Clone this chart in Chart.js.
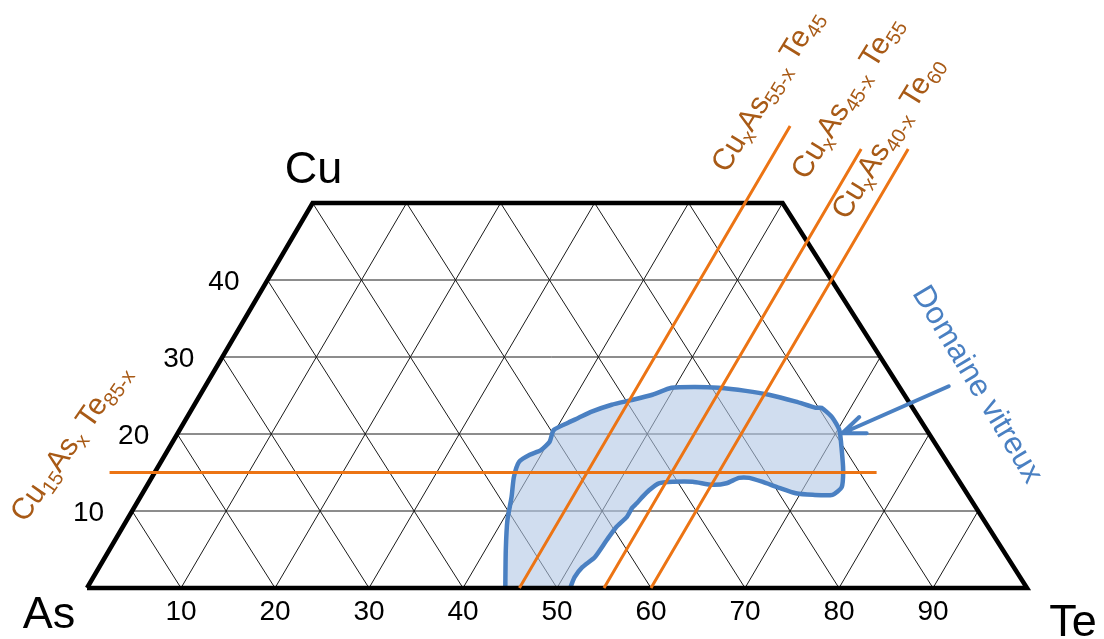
<!DOCTYPE html>
<html>
<head>
<meta charset="utf-8">
<script src="https://cdn.jsdelivr.net/npm/chart.js@4.4.1/dist/chart.umd.min.js"></script>
<style>
  html, body { margin: 0; padding: 0; background: #fff; }
  #wrap { width: 1104px; height: 639px; position: relative; }
</style>
</head>
<body>
<div id="wrap"><canvas id="ternary"></canvas></div>
<script>
// ticks, at.%
const teTicks = [10, 20, 30, 40, 50, 60, 70, 80, 90];
const cuTicks = [10, 20, 30, 40];
const cuMax = 50; // diagram cut at 50 % Cu

// sections CuxAs(..)Te(..) : constant Te, from Cu=0 up to sectionCuEnd
const sectionTe = [46, 55, 60];
const sectionCuEnd = [60, 57, 57];
// section Cu15AsxTe85-x : constant Cu
const sectionCu = 15;
const sectionCuTe = [-4.8, 76.8];

// outline of the glass forming domain (Te, Cu)
const glassTe = [44.5, 42.2, 40.5, 39.5, 38.5, 38.1, 38.8, 39.7, 40.1, 39.8, 40.8, 41.7, 42.7, 44.4, 46.2, 48.1,
  49.7, 52.2, 54.7, 57.8, 60.5, 63.8, 66.3, 66.9, 68.6, 70.2, 71.7, 73.1, 74.0, 73.5, 71.4, 69.5, 67.4, 65.2,
  63.6, 62.5, 61.5, 60.1, 57.8, 55.7, 54.3, 53.7, 53.4, 53.2, 53.0, 53.0, 52.5, 52.3, 52.1, 51.4, 51.2, 51.4];
const glassCu = [0, 4.9, 8.8, 11.8, 14.4, 16.4, 17.3, 17.9, 19.0, 20.5, 21.4, 22.1, 22.9, 23.8, 24.4, 25.1,
  26.0, 26.1, 26.0, 25.6, 25.1, 24.2, 23.4, 23.4, 22.2, 20.5, 17.9, 15.3, 13.1, 12.1, 12.1, 12.3, 13.0, 13.8,
  14.3, 14.3, 13.6, 13.4, 13.8, 13.8, 13.6, 12.7, 11.8, 11.0, 10.4, 9.2, 7.9, 6.2, 4.0, 2.7, 1.4, 0];

// arrow "Domaine vitreux" : tail, tip, barb, tip, barb
const arrowTe = [79.1, 70.7, 71.5, 70.7, 73.3];
const arrowCu = [26.2, 20.1, 22.2, 20.1, 20.1];

const FONT = '"Liberation Sans", Arial, sans-serif';
const ORANGE = '#EC7414';
const BROWN = '#A85A16';
const BLUE = '#4A80C2';

// ternary -> cartesian (x along As-Te side, y = Cu)
const SKEW = 0.48;
const pt = (te, cu) => ({ x: te + SKEW * cu, y: cu });
const GAP = { x: null, y: null };

// grid
const gridData = [];
cuTicks.forEach(c => gridData.push(pt(0, c), pt(100 - c, c), GAP));
teTicks.forEach(t => {
  gridData.push(pt(t, 0), pt(t, Math.min(cuMax, 100 - t)), GAP);
  const c = Math.min(cuMax, t);
  gridData.push(pt(t, 0), pt(t - c, c), GAP);
});

const frameData = [pt(0, 0), pt(100, 0), pt(100 - cuMax, cuMax), pt(0, cuMax), pt(0, 0)];

const sectionData = [];
sectionTe.forEach((t, i) => sectionData.push(pt(t, 0), pt(t, sectionCuEnd[i]), GAP));
sectionData.push(pt(sectionCuTe[0], sectionCu), pt(sectionCuTe[1], sectionCu));

const glassData = glassTe.map((t, i) => pt(t, glassCu[i]));
const arrowData = arrowTe.map((t, i) => pt(t, arrowCu[i]));

const notes = [
  { text: 'Cu_{x}As_{55-x} Te_{45}', x: 72.2, y: 64.7, angle: -58.5, size: 30, color: BROWN },
  { text: 'Cu_{x}As_{45-x} Te_{55}', x: 80.7, y: 63.8, angle: -58.5, size: 30, color: BROWN },
  { text: 'Cu_{x}As_{40-x} Te_{60}', x: 85.0, y: 58.6, angle: -58.5, size: 30, color: BROWN },
  { text: 'Cu_{15}As_{x} Te_{85-x}', x: -1.9, y: 19.0, angle: -55, size: 30, color: BROWN },
  { text: 'Domaine vitreux', x: 94.9, y: 26.6, angle: 59, size: 31, color: BLUE },
];
const corners = [
  { text: 'As', x: -4.04, y: -5.2 },
  { text: 'Cu', x: 24.1, y: 52.6 },
  { text: 'Te', x: 104.9, y: -6.2 },
];

function drawRich(ctx, str, cx, cy, angle, size, color) {
  const sub = Math.round(size * 0.68);
  const parts = [];
  str.split(/(_\{[^}]*\})/).forEach(s => {
    if (!s) return;
    if (s.startsWith('_{')) parts.push({ t: s.slice(2, -1), sub: true });
    else parts.push({ t: s, sub: false });
  });
  ctx.save();
  ctx.translate(cx, cy);
  ctx.rotate(angle * Math.PI / 180);
  let w = 0;
  parts.forEach(p => {
    ctx.font = (p.sub ? sub : size) + 'px ' + FONT;
    p.w = ctx.measureText(p.t).width;
    w += p.w;
  });
  let x = -w / 2;
  ctx.fillStyle = color;
  ctx.textBaseline = 'alphabetic';
  ctx.textAlign = 'left';
  parts.forEach(p => {
    ctx.font = (p.sub ? sub : size) + 'px ' + FONT;
    ctx.fillText(p.t, x, size * 0.36 + (p.sub ? size * 0.2 : 0));
    x += p.w;
  });
  ctx.restore();
}

const textPlugin = {
  id: 'ternaryText',
  afterDatasetsDraw(chart) {
    const ctx = chart.ctx;
    const xs = chart.scales.x, ys = chart.scales.y;
    // Cu ticks along the As-Cu side
    ctx.save();
    ctx.font = '28px ' + FONT;
    ctx.fillStyle = '#000';
    ctx.textAlign = 'right';
    ctx.textBaseline = 'middle';
    cuTicks.forEach(c => {
      const p = pt(0, c);
      ctx.fillText(String(c), xs.getPixelForValue(p.x) - 28, ys.getPixelForValue(p.y) + 2);
    });
    ctx.font = '45px ' + FONT;
    ctx.textAlign = 'center';
    ctx.textBaseline = 'alphabetic';
    corners.forEach(c => ctx.fillText(c.text, xs.getPixelForValue(c.x), ys.getPixelForValue(c.y)));
    ctx.restore();
    notes.forEach(n => drawRich(ctx, n.text, xs.getPixelForValue(n.x), ys.getPixelForValue(n.y), n.angle, n.size, n.color));
  }
};

const line = (extra) => Object.assign({
  showLine: true, pointRadius: 0, pointHoverRadius: 0, clip: false, spanGaps: false, fill: false
}, extra);

new Chart(document.getElementById('ternary'), {
  type: 'scatter',
  data: {
    datasets: [
      line({ label: 'grid', data: gridData, borderColor: '#1a1a1a', borderWidth: 1, order: 5 }),
      line({ label: 'Domaine vitreux', data: glassData, borderColor: BLUE, borderWidth: 4.5,
        backgroundColor: 'rgba(176,198,228,0.6)', fill: 'shape', tension: 0.2, borderJoinStyle: 'round', order: 4 }),
      line({ label: 'frame', data: frameData, borderColor: '#000', borderWidth: 4.5, borderJoinStyle: 'miter', order: 3 }),
      line({ label: 'sections', data: sectionData, borderColor: ORANGE, borderWidth: 3, order: 2 }),
      line({ label: 'arrow', data: arrowData, borderColor: BLUE, borderWidth: 4, borderCapStyle: 'round', borderJoinStyle: 'round', order: 1 }),
    ]
  },
  options: {
    responsive: true,
    maintainAspectRatio: false,
    devicePixelRatio: 1,
    animation: false,
    events: [],
    layout: { padding: { left: 87, right: 77, top: 203, bottom: 0 } },
    plugins: { legend: { display: false }, tooltip: { enabled: false } },
    scales: {
      x: {
        type: 'linear', min: 0, max: 100, position: 'bottom',
        grid: { display: false, drawTicks: false, tickLength: 0 },
        border: { display: false },
        afterBuildTicks: s => { s.ticks = teTicks.map(v => ({ value: v })); },
        afterFit: s => { s.height = 51; },
        ticks: { autoSkip: false, maxRotation: 0, padding: 7, color: '#000', font: { size: 28, family: FONT } }
      },
      y: { type: 'linear', min: 0, max: cuMax, display: false }
    }
  },
  plugins: [textPlugin]
});
</script>
</body>
</html>
